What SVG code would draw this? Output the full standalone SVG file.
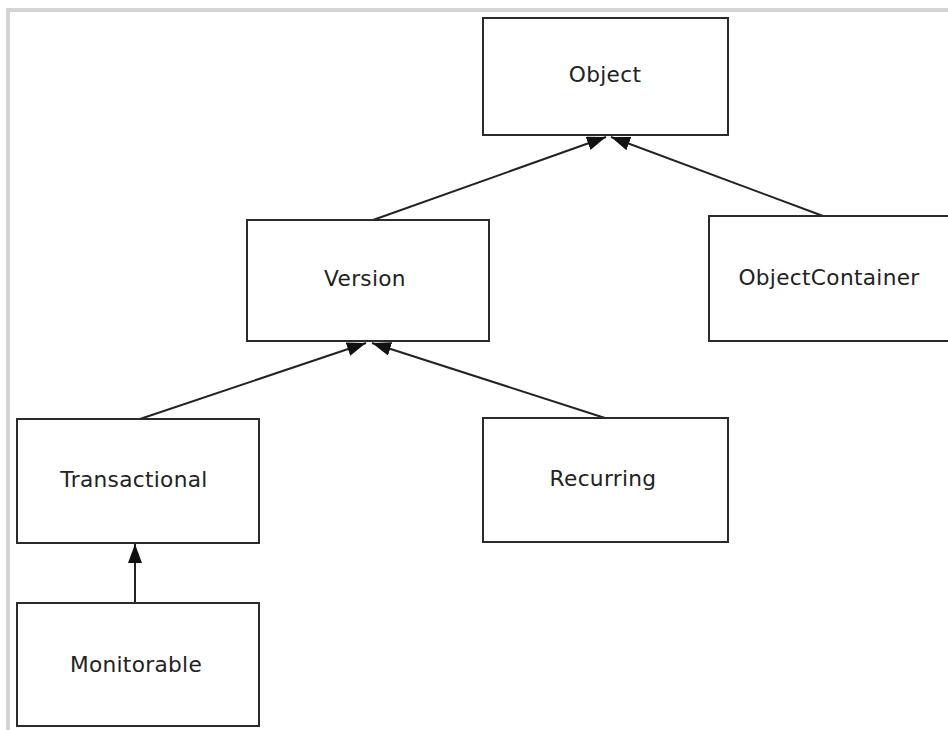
<svg xmlns="http://www.w3.org/2000/svg" width="948" height="730" viewBox="0 0 948 730">
  <style>
    .box { fill: #ffffff; stroke: #2b2b2b; stroke-width: 2; }
    .lbl { font-family: "DejaVu Sans", Verdana, sans-serif; font-size: 21.7px; letter-spacing: 0.3px; fill: #222222; text-anchor: middle; }
    .edge { stroke: #222222; stroke-width: 2; fill: none; marker-end: url(#arrow); }
  </style>
  <defs>
    <marker id="arrow" markerUnits="userSpaceOnUse" markerWidth="19" markerHeight="14" refX="19" refY="7" orient="auto">
      <path d="M0,0 L19,7 L0,14 z" fill="#111111"/>
    </marker>
  </defs>
  <rect x="0" y="0" width="948" height="730" fill="#ffffff"/>
  <path d="M8,730 V10 H948" fill="none" stroke="#d4d4d4" stroke-width="4"/>

  <g id="connectors">
    <line class="edge" x1="373" y1="220" x2="606" y2="137"/>
    <line class="edge" x1="823" y1="216" x2="611" y2="137"/>
    <line class="edge" x1="140" y1="419" x2="366" y2="343"/>
    <line class="edge" x1="605" y1="418" x2="372" y2="343"/>
    <line class="edge" x1="135" y1="603" x2="135" y2="544"/>
  </g>

  <g id="node-object">
    <rect class="box" x="483" y="18" width="245" height="117"/>
    <text class="lbl" x="605" y="82">Object</text>
  </g>
  <g id="node-version">
    <rect class="box" x="247" y="220" width="242" height="121"/>
    <text class="lbl" x="365" y="286">Version</text>
  </g>
  <g id="node-objectcontainer">
    <rect class="box" x="709" y="216" width="245" height="125"/>
    <text class="lbl" x="829" y="285">ObjectContainer</text>
  </g>
  <g id="node-transactional">
    <rect class="box" x="17" y="419" width="242" height="124"/>
    <text class="lbl" x="134" y="487">Transactional</text>
  </g>
  <g id="node-recurring">
    <rect class="box" x="483" y="418" width="245" height="124"/>
    <text class="lbl" x="603" y="486">Recurring</text>
  </g>
  <g id="node-monitorable">
    <rect class="box" x="17" y="603" width="242" height="123"/>
    <text class="lbl" x="136" y="672">Monitorable</text>
  </g>
</svg>
